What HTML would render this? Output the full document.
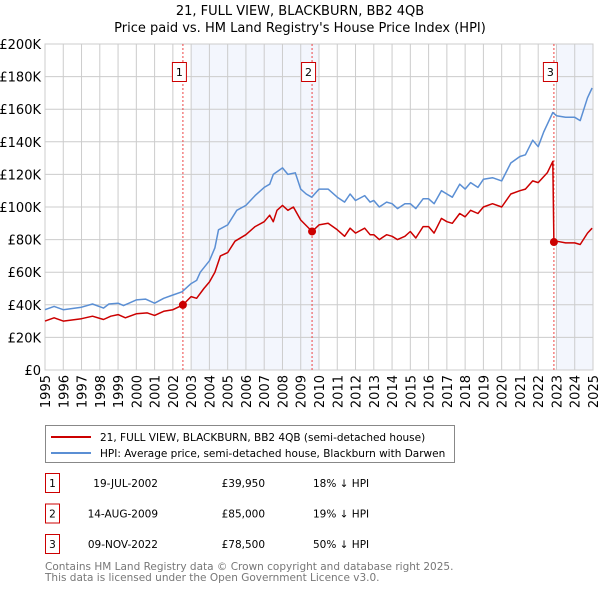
<!DOCTYPE html>
<html><head><meta charset="utf-8">
<style>
body{margin:0;background:#fff;font-family:"DejaVu Sans","Liberation Sans",sans-serif;}
#wrap{position:relative;width:600px;height:590px;overflow:hidden;}
</style></head>
<body>
<div id="wrap">
<svg id="chart" width="600" height="590" xmlns="http://www.w3.org/2000/svg" font-family="DejaVu Sans, Liberation Sans, sans-serif">
<text x="300" y="15" text-anchor="middle" font-size="13" fill="#000">21, FULL VIEW, BLACKBURN, BB2 4QB</text>
<text x="300" y="32" text-anchor="middle" font-size="13" fill="#000">Price paid vs. HM Land Registry's House Price Index (HPI)</text>
<g id="plot"></g>
<g>
<rect x="45.5" y="425.5" width="409" height="37" fill="#fff" stroke="#888"/>
<line x1="51" y1="437" x2="91" y2="437" stroke="#cc0000" stroke-width="2"/>
<text x="100" y="441" font-size="10.5">21, FULL VIEW, BLACKBURN, BB2 4QB (semi-detached house)</text>
<line x1="51" y1="453" x2="91" y2="453" stroke="#5b8fd4" stroke-width="2"/>
<text x="100" y="457" font-size="10.5">HPI: Average price, semi-detached house, Blackburn with Darwen</text>
</g>
<g id="table" font-size="10.5"></g>
<text x="45" y="570" font-size="10.5" fill="#777">Contains HM Land Registry data © Crown copyright and database right 2025.</text>
<text x="45" y="581" font-size="10.5" fill="#777">This data is licensed under the Open Government Licence v3.0.</text>
</svg>
</div>
<script>
const hpiYears=[1995,1995.5,1996,1997,1997.6,1998.2,1998.5,1999,1999.3,2000,2000.5,2001,2001.5,2002,2002.5,2003,2003.3,2003.5,2004,2004.3,2004.5,2005,2005.5,2006,2006.5,2007,2007.3,2007.5,2008,2008.3,2008.7,2009,2009.3,2009.6,2010,2010.5,2011,2011.4,2011.7,2012,2012.5,2012.8,2013,2013.3,2013.7,2014,2014.3,2014.7,2015,2015.3,2015.7,2016,2016.3,2016.7,2017,2017.3,2017.7,2018,2018.3,2018.7,2019,2019.5,2020,2020.5,2021,2021.3,2021.7,2022,2022.3,2022.8,2023,2023.5,2024,2024.3,2024.7,2024.95];
const hpiValues=[37,39,37,38.5,40.5,38,40.5,41,39.5,43,43.5,41,44,46,48,53,55,60,67,75,86,89,98,101,107,112,114,120,124,120,121,111,108,106,111,111,106,103,108,104,107,103,104,100,103,102,99,102,102,99,105,105,102,110,108,106,114,111,115,112,117,118,116,127,131,132,141,137,146,158,156,155,155,153,167,173];
const priceYears=[1995,1995.5,1996,1997,1997.6,1998.2,1998.6,1999,1999.4,2000,2000.6,2001,2001.5,2002,2002.55,2003,2003.3,2003.7,2004,2004.3,2004.6,2005,2005.4,2006,2006.5,2007,2007.3,2007.5,2007.7,2008,2008.3,2008.6,2009,2009.62,2010,2010.5,2011,2011.4,2011.7,2012,2012.5,2012.8,2013,2013.3,2013.7,2014,2014.3,2014.7,2015,2015.3,2015.7,2016,2016.3,2016.7,2017,2017.3,2017.7,2018,2018.3,2018.7,2019,2019.5,2020,2020.5,2021,2021.3,2021.7,2022,2022.5,2022.8,2022.86,2023,2023.5,2024,2024.3,2024.7,2024.95];
const priceValues=[30,32,30,31.5,33,31,33,34,32,34.5,35,33.5,36,37,39.95,45,44,50,54,60,70,72,79,83,88,91,95,91,98,101,98,100,92,85,89,90,86,82,87,84,87,83,83,80,83,82,80,82,85,81,88,88,84,93,91,90,96,94,98,96,100,102,100,108,110,111,116,115,121,128,78.5,79,78,78,77,84,87];
const saleLabels=["1","2","3"];
const saleYears=[2002.55,2009.62,2022.86];
const saleValues=[39.95,85,78.5];
const saleDates=["19-JUL-2002","14-AUG-2009","09-NOV-2022"];
const salePrices=["£39,950","£85,000","£78,500"];
const saleDiffs=["18% ↓ HPI","19% ↓ HPI","50% ↓ HPI"];
const yTicks=[0,20,40,60,80,100,120,140,160,180,200];
const yTickLabels=["£0","£20K","£40K","£60K","£80K","£100K","£120K","£140K","£160K","£180K","£200K"];
const xTicks=[1995,1996,1997,1998,1999,2000,2001,2002,2003,2004,2005,2006,2007,2008,2009,2010,2011,2012,2013,2014,2015,2016,2017,2018,2019,2020,2021,2022,2023,2024,2025];
const shadeRanges=[[2003,2010],[2023,2025]];

const NS="http://www.w3.org/2000/svg";
const L=45,R=593,T=44,B=370;
const xs=y=>L+(y-1995)/30*(R-L);
const ys=v=>B-v/200*(B-T);
const plot=document.getElementById('plot');
function mk(tag,attrs,parent){const e=document.createElementNS(NS,tag);for(const k in attrs)e.setAttribute(k,attrs[k]);(parent||plot).appendChild(e);return e;}

shadeRanges.forEach(r=>{
  const e=mk('rect',{x:xs(r[0]),y:T,width:xs(r[1])-xs(r[0]),height:B-T,fill:'#f3f6fd'});
  
  
});
yTicks.forEach((v,i)=>{
  const g=mk('line',{x1:L,x2:R,y1:ys(v),y2:ys(v),stroke:'#cccccc','stroke-width':1});
  
  
  const t=mk('text',{x:L-4,y:ys(v)+5,'text-anchor':'end','font-size':13});
  t.textContent=yTickLabels[i];
  
  
});
xTicks.forEach(y=>{
  const g=mk('line',{x1:xs(y),x2:xs(y),y1:T,y2:B,stroke:'#cccccc','stroke-width':1});
  
  
  const t=mk('text',{x:0,y:0,'text-anchor':'end','font-size':13,transform:`translate(${xs(y)+5},${B+5}) rotate(-90)`});
  t.textContent=y;
  
  
});
const ax=mk('rect',{x:L,y:T,width:R-L,height:B-T,fill:'none',stroke:'#cccccc'});



saleYears.forEach((y,i)=>{
  const l=mk('line',{x1:xs(y),x2:xs(y),y1:T,y2:B,stroke:'#ee4444','stroke-width':1,'stroke-dasharray':'2,2'});
  
  
  const bx=mk('rect',{x:xs(y)-10.5,y:62.5,width:14,height:19,fill:'#fff',stroke:'#cc0000'});
  
  
  const t=mk('text',{x:xs(y)-3.5,y:76,'text-anchor':'middle','font-size':11});
  t.textContent=saleLabels[i];
  
  
});

function pathFor(xa,va){return xa.map((x,i)=>(i?'L':'M')+xs(x).toFixed(1)+','+ys(va[i]).toFixed(1)).join(' ');}
const hp=mk('path',{d:pathFor(hpiYears,hpiValues),fill:'none',stroke:'#5b8fd4','stroke-width':1.5,'stroke-linejoin':'round'});


const pp=mk('path',{d:pathFor(priceYears,priceValues),fill:'none',stroke:'#cc0000','stroke-width':1.5,'stroke-linejoin':'round'});


saleYears.forEach((y,i)=>{
  const c=mk('circle',{cx:xs(y),cy:ys(saleValues[i]),r:4,fill:'#cc0000'});
  
  
});

const tb=document.getElementById('table');
saleLabels.forEach((s,i)=>{
  const y=483+i*30.5;
  const b=mk('rect',{x:45.5,y:y-9.5,width:14,height:19,fill:'#fff',stroke:'#cc0000'},tb);
  
  
  const n=mk('text',{x:52.5,y:y+4,'text-anchor':'middle'},tb);n.textContent=s;
  
  
  const d=mk('text',{x:158,y:y+4,'text-anchor':'end'},tb);d.textContent=saleDates[i];
  
  
  const p=mk('text',{x:265,y:y+4,'text-anchor':'end'},tb);p.textContent=salePrices[i];
  
  
  const h=mk('text',{x:313,y:y+4},tb);h.textContent=saleDiffs[i];
  
  
});
</script>
</body></html>
